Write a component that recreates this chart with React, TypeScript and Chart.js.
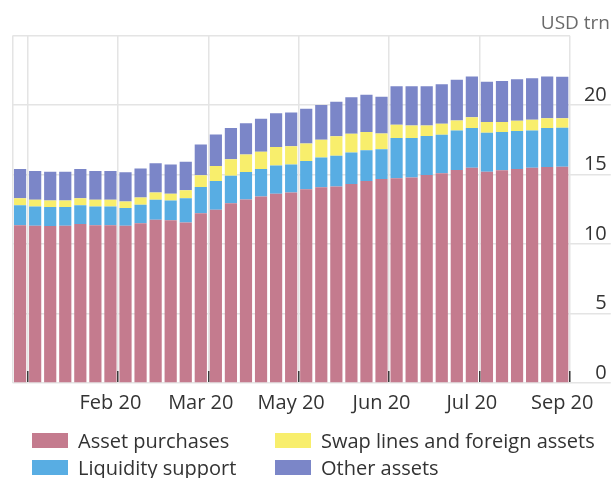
import React, { useEffect, useRef } from "react";
import { Chart, registerables } from "chart.js";

Chart.register(...registerables);

const categories = [
  "", "", "", "", "", "", "Feb 20", "", "", "", "", "", "Mar 20", "", "", "", "", "", "May 20",
  "", "", "", "", "", "Jun 20", "", "", "", "", "", "Jul 20", "", "", "", "", "", "Sep 20",
];

const assetPurchases = [11.36, 11.33, 11.31, 11.33, 11.45, 11.36, 11.36, 11.33, 11.5, 11.76, 11.71, 11.55, 12.22, 12.48, 12.95, 13.22, 13.43, 13.62, 13.72, 13.95, 14.1, 14.14, 14.33, 14.55, 14.69, 14.74, 14.79, 14.98, 15.1, 15.33, 15.5, 15.21, 15.31, 15.41, 15.5, 15.55, 15.57];
const liquiditySupport = [1.43, 1.38, 1.36, 1.34, 1.34, 1.35, 1.35, 1.27, 1.33, 1.43, 1.43, 1.76, 1.9, 2.07, 1.98, 1.97, 1.98, 2.04, 2.02, 2.03, 2.14, 2.22, 2.26, 2.21, 2.14, 2.9, 2.85, 2.81, 2.78, 2.86, 2.86, 2.81, 2.76, 2.73, 2.69, 2.81, 2.81];
const swapLines = [0.52, 0.48, 0.47, 0.47, 0.52, 0.48, 0.48, 0.47, 0.53, 0.52, 0.48, 0.57, 0.83, 1.07, 1.18, 1.26, 1.25, 1.33, 1.3, 1.26, 1.28, 1.4, 1.36, 1.31, 1.14, 0.96, 0.91, 0.76, 0.79, 0.71, 0.78, 0.77, 0.72, 0.74, 0.76, 0.71, 0.69];
const otherAssets = [2.1, 2.07, 2.07, 2.07, 2.1, 2.07, 2.07, 2.1, 2.09, 2.12, 2.12, 2.05, 2.22, 2.28, 2.26, 2.26, 2.36, 2.44, 2.43, 2.5, 2.5, 2.5, 2.62, 2.69, 2.65, 2.76, 2.81, 2.81, 2.85, 2.93, 2.93, 2.9, 2.95, 3.0, 3.0, 3.0, 2.98];

const seriesNames = ["Asset purchases", "Liquidity support", "Swap lines and foreign assets", "Other assets"];
const seriesColors = ["#C47B8E", "#58ADE3", "#F8EE6C", "#7B86C8"];

const FONT = "'Open Sans', 'Noto Sans', sans-serif";
const GRID = "#e4e4e4";

export default function App() {
  const canvasRef = useRef<HTMLCanvasElement | null>(null);

  useEffect(() => {
    const canvas = canvasRef.current;
    if (!canvas) return;
    const values = [assetPurchases, liquiditySupport, swapLines, otherAssets];
    const chart = new Chart(canvas, {
      type: "bar",
      data: {
        labels: categories,
        datasets: values.map((v, i) => ({
          label: seriesNames[i],
          data: v,
          backgroundColor: seriesColors[i],
          borderWidth: 0,
          barPercentage: 0.81,
          categoryPercentage: 1,
        })),
      },
      options: {
        animation: false,
        responsive: false,
        maintainAspectRatio: false,
        layout: { padding: { left: 10, right: 4, top: 0, bottom: 0 } },
        plugins: {
          legend: { display: false },
          tooltip: { enabled: false },
          title: {
            display: true,
            text: "USD trn",
            align: "end",
            color: "#6a6a6a",
            font: { family: FONT, size: 19, weight: "normal" },
            padding: { top: 12, bottom: 1 },
          },
        },
        scales: {
          x: {
            stacked: true,
            offset: true,
            border: { display: false },
            grid: {
              offset: true,
              lineWidth: 1.5,
              tickWidth: 1.5,
              tickLength: -12,
              color: (ctx: any) =>
                ctx.index === undefined || ctx.index === 0 || ctx.index % 6 === 1 ? GRID : "rgba(0,0,0,0)",
              tickColor: (ctx: any) =>
                ctx.index === undefined || (ctx.index !== 0 && ctx.index % 6 === 1) ? "#3a3a3a" : "rgba(0,0,0,0)",
            },
            ticks: {
              autoSkip: false,
              maxRotation: 0,
              minRotation: 0,
              padding: 20,
              color: "#333",
              font: { family: FONT, size: 20 },
              callback: (_v: any, i: number) => categories[i],
            },
          },
          y: {
            stacked: true,
            position: "right",
            min: 0,
            max: 25,
            border: { display: false },
            afterFit: (s: any) => {
              s.width = 37;
            },
            grid: {
              lineWidth: 1.5,
              tickWidth: 1.5,
              tickLength: 41,
              color: GRID,
              tickColor: (ctx: any) => (ctx.tick && ctx.tick.value === 25 ? "rgba(0,0,0,0)" : GRID),
            },
            ticks: {
              stepSize: 5,
              crossAlign: "far",
              padding: -27,
              labelOffset: -10,
              color: "#333",
              font: { family: FONT, size: 20 },
              callback: (v: any) => (v === 25 ? "" : String(v)),
            },
          },
        },
      },
    } as any);
    return () => chart.destroy();
  }, []);

  const legendPos = [
    { left: 32, top: 431 },
    { left: 32, top: 458 },
    { left: 275, top: 431 },
    { left: 275, top: 458 },
  ];

  return (
    <div style={{ position: "absolute", left: 0, top: 0, width: 614, height: 478, background: "#fff", fontFamily: FONT }}>
      <canvas ref={canvasRef} width={614} height={435} style={{ display: "block", width: 614, height: 435 }} />
      {seriesNames.map((name, i) => (
        <div
          key={name}
          style={{
            position: "absolute",
            left: legendPos[i].left,
            top: legendPos[i].top,
            height: 19,
            display: "flex",
            alignItems: "center",
            whiteSpace: "nowrap",
          }}
        >
          <span style={{ display: "inline-block", width: 36, height: 15, background: seriesColors[i] }} />
          <span style={{ marginLeft: 10, fontSize: 20, lineHeight: "19px", color: "#333" }}>{name}</span>
        </div>
      ))}
    </div>
  );
}
